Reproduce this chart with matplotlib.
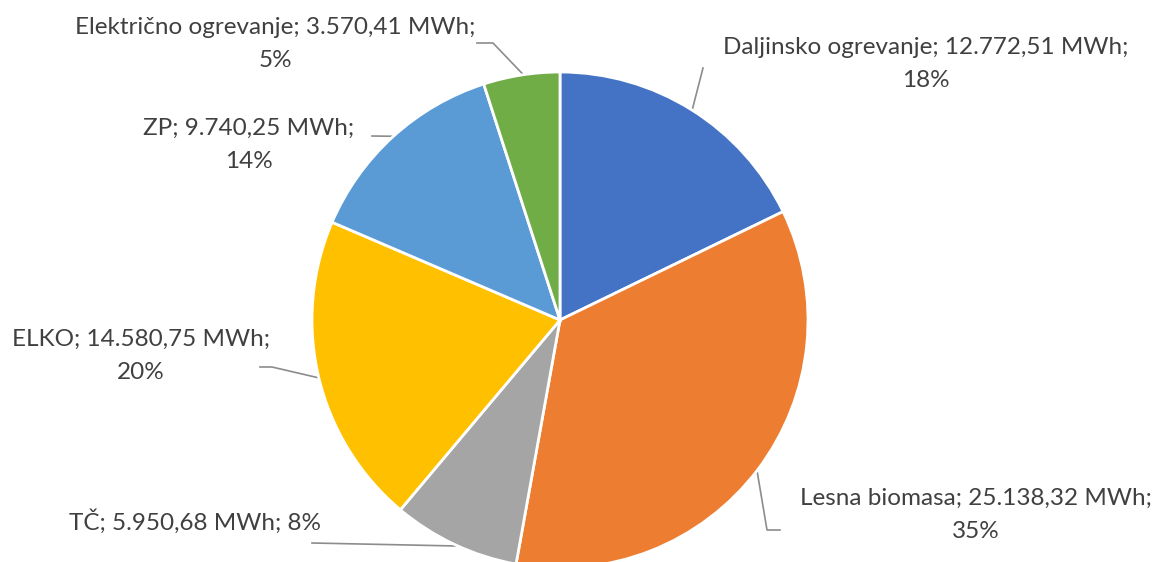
import matplotlib
matplotlib.use("Agg")
import matplotlib.pyplot as plt
import numpy as np

# data
names = ["Daljinsko ogrevanje", "Lesna biomasa", "TČ", "ELKO", "ZP", "Električno ogrevanje"]
mwh = [12772.51, 25138.32, 5950.68, 14580.75, 9740.25, 3570.41]
colors = ["#4472C4", "#ED7D31", "#A5A5A5", "#FFC000", "#5B9BD5", "#70AD47"]

# label layout (pixel coords, y from top)
label_xy = [(926, 64), (976, 515), (195, 522), (141, 356), (249, 145), (275, 44)]
label_sep = ["\n", "\n", " ", "\n", "\n", "\n"]
# leader: start point, optional elbow, angle on pie edge
leader_pts = [[(703, 68)], [(780, 530), (767, 530)], [(312, 543)],
              [(260, 367), (272, 367)], [(372, 136)], [(477, 43), (493, 43)]]
leader_ang = [57.8, -37.4, 245.7, 193.5, 132.2, 98.5]

W, H = 1161, 562
cx, cy, r = 560, 320, 248

plt.rcParams['font.family'] = ['Lato', 'DejaVu Sans']

fig = plt.figure(figsize=(W / 100, H / 100), dpi=100)
ax = fig.add_axes([0, 0, 1, 1])


def fy(y):
    return H - y


ax.pie(mwh, colors=colors, startangle=90, counterclock=False, radius=r,
       center=(cx, fy(cy)), frame=True,
       wedgeprops=dict(edgecolor='white', linewidth=2))
ax.set_xlim(0, W)
ax.set_ylim(0, H)
ax.axis('off')


def fmt(v):
    s = f"{v:,.2f}"
    return s.replace(",", "X").replace(".", ",").replace("X", ".")


total = sum(mwh)
for i, name in enumerate(names):
    pct = round(mwh[i] / total * 100)
    txt = f"{name}; {fmt(mwh[i])} MWh;{label_sep[i]}{pct}%"
    x, y = label_xy[i]
    ax.text(x, fy(y), txt, ha='center', va='center', fontsize=17.5,
            color='#404040', linespacing=1.7, multialignment='center')
    a = np.radians(leader_ang[i])
    ex, ey = cx + r * np.cos(a), fy(cy) + r * np.sin(a)
    xs = [p[0] for p in leader_pts[i]] + [ex]
    ys = [fy(p[1]) for p in leader_pts[i]] + [ey]
    ax.plot(xs, ys, color='#8C8C8C', linewidth=1.2, zorder=0)

plt.savefig("out.png", dpi=100)
